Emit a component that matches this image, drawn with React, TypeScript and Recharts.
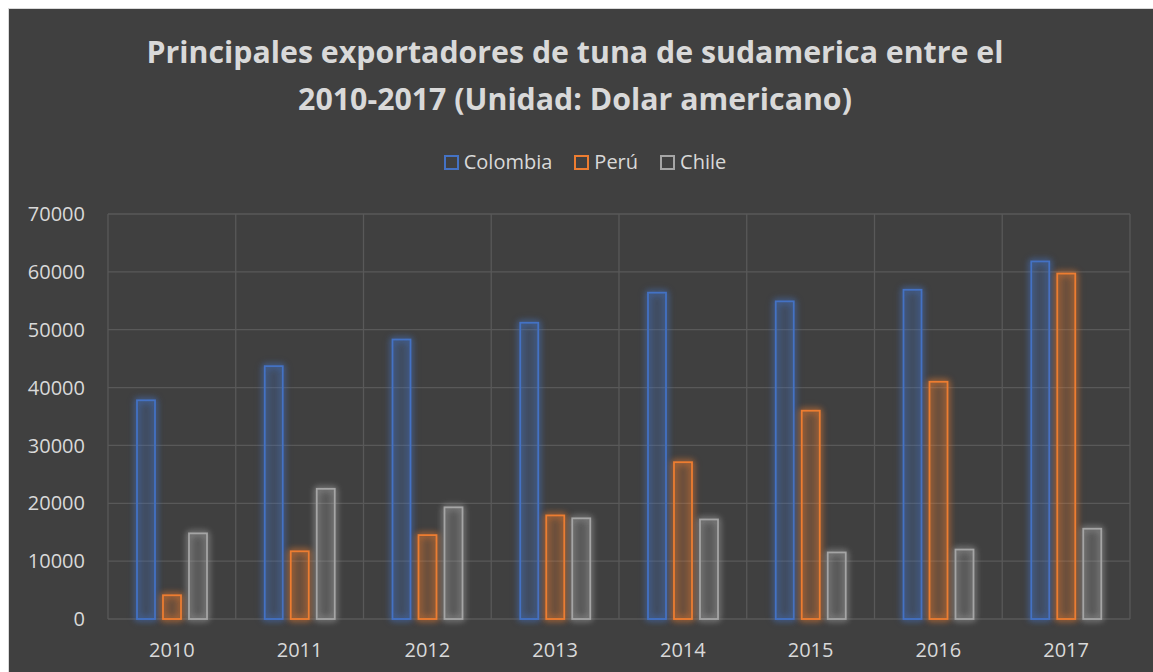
import { Bar, BarChart, CartesianGrid, Legend, XAxis, YAxis } from "recharts";

const years = ["2010", "2011", "2012", "2013", "2014", "2015", "2016", "2017"];
const colombia = [37800, 43700, 48300, 51200, 56400, 54900, 56900, 61800];
const peru = [4100, 11700, 14500, 17900, 27100, 36000, 41000, 59700];
const chile = [14800, 22500, 19300, 17400, 17200, 11500, 12000, 15600];
const yTicks = [0, 10000, 20000, 30000, 40000, 50000, 60000, 70000];

const series = [
  { key: "colombia", name: "Colombia", color: "#4472c4" },
  { key: "peru", name: "Perú", color: "#ed7d31" },
  { key: "chile", name: "Chile", color: "#a5a5a5" },
];

const data = years.map((year, i) => ({ year, colombia: colombia[i], peru: peru[i], chile: chile[i] }));

const TEXT = "#d9d9d9";
const BG = "#404040";
const GRID = "#595959";
const FONT = "'Open Sans', sans-serif";

// outlined bar with a soft glow, Excel "dark" style
const glowBar = (color: string) => (p: any) => (
  <rect
    x={p.x} y={p.y} width={p.width} height={p.height}
    fill={color} fillOpacity={0.1} stroke={color} strokeWidth={1.8}
    style={{ filter: `drop-shadow(0 0 3px ${color}) drop-shadow(0 0 3px ${color}66)` }}
  />
);

function LegendBox({ payload }: any) {
  const order = (v: string) => series.findIndex((s) => s.name === v);
  const items = [...(payload || [])].sort((a: any, b: any) => order(a.value) - order(b.value));
  return (
    <div style={{ height: 70, paddingLeft: 31, display: "flex", justifyContent: "center", alignItems: "flex-start", fontSize: 20, color: TEXT, fontFamily: FONT }}>
      {items.map((it: any) => (
        <div key={it.value} style={{ display: "flex", alignItems: "center", margin: "0 11px", lineHeight: "36px" }}>
          <span style={{ width: 11, height: 11, border: `2px solid ${it.color}`, marginRight: 5, display: "inline-block" }} />
          {it.value}
        </div>
      ))}
    </div>
  );
}

export default function App() {
  return (
    <div style={{ width: 1145, height: 664, padding: "8px 0 0 8px", background: "#fff" }}>
      <style>{"body{margin:0}"}</style>
      <div style={{ width: 1144, height: 663, background: BG, borderLeft: "1px solid #d9d9d9", borderTop: "1px solid #d9d9d9", position: "relative", fontFamily: FONT, overflow: "hidden" }}>
        <div style={{ position: "absolute", top: 20, left: 0, width: 1132, paddingRight: 12, textAlign: "center", color: TEXT, fontWeight: 700, fontSize: 30.3, lineHeight: "46.5px" }}>
          <div>Principales exportadores de tuna de sudamerica entre el</div>
          <div>2010-2017 (Unidad: Dolar americano)</div>
        </div>
        <BarChart width={1144} height={663} data={data} barSize={18} barGap={8}
          margin={{ top: 135, right: 23, left: 0, bottom: 13 }}>
          <CartesianGrid stroke={GRID} strokeWidth={1.3}
            verticalCoordinatesGenerator={({ offset }: any) =>
              years.map((_, i) => offset.left + (i * offset.width) / years.length).concat(offset.left + offset.width)} />
          <XAxis dataKey="year" height={40} axisLine={false} tickLine={false} tickSize={0} tickMargin={24}
            tick={{ fill: TEXT, fontSize: 20 }} />
          <YAxis width={99} domain={[0, 70000]} ticks={yTicks} axisLine={false} tickLine={false} tickSize={0}
            tickMargin={23} tick={{ fill: TEXT, fontSize: 20 }} />
          <Legend verticalAlign="top" align="center" itemSorter={null as any} content={<LegendBox />} />
          {series.map((s) => (
            <Bar key={s.key} dataKey={s.key} name={s.name} fill={s.color} shape={glowBar(s.color)} isAnimationActive={false} />
          ))}
        </BarChart>
      </div>
    </div>
  );
}
